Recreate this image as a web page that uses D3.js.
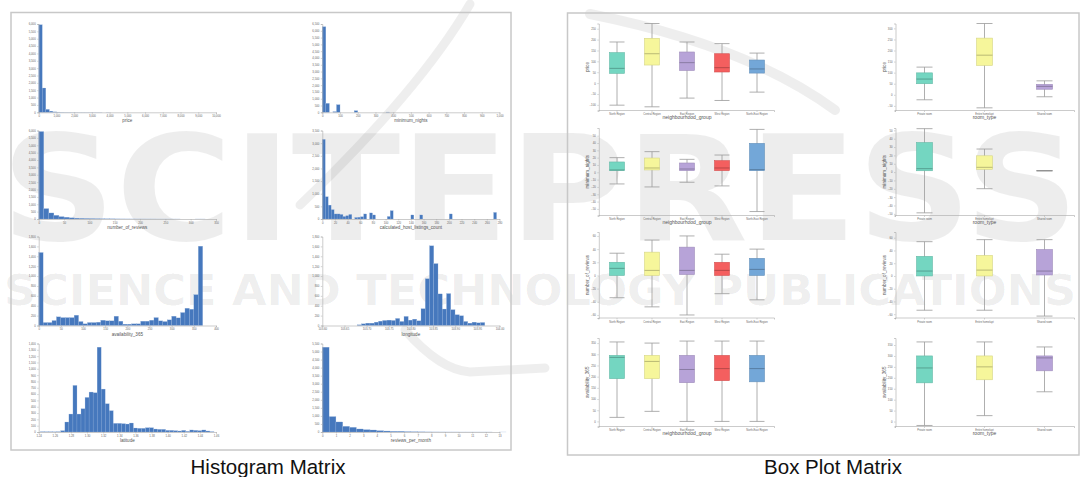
<!DOCTYPE html>
<html><head><meta charset="utf-8">
<script src="https://cdn.jsdelivr.net/npm/d3@7"></script>
<style>body{margin:0;background:#fff}svg{display:block}</style>
</head><body>
<svg id="c" width="1082" height="477"></svg>
<script>
// ---------------- DATA ----------------
// Histogram matrix (bin counts)
const histNames = ["price","minimum_nights","number_of_reviews","calculated_host_listings_count","availability_365","longitude","latitude","reviews_per_month"];
const priceCounts = [5950,1650,200,80,30,15,10,6,5,4,3,2,2,1,1,1,1,1,0,1];
const minNightsCounts = [6300,660,0,50,560,0,0,0,0,120,0,0,0,0,0,0,0,0,20];
const reviewsCounts = [5930,705,410,250,160,120,80,60,45,35,28,20,15,12,10,8,6,5,4,3,3,2,2,1,1,1,1,1,0,0,0,1,1];
const hostListCounts = [3150,880,550,370,200,200,180,100,130,180,0,60,70,90,200,0,240,160,0,0,0,0,100,330,0,0,0,0,0,0,160,0,0,160,0,0,0,0,0,0,0,0,0,200,0,0,0,0,0,0,0,0,0,0,0,0,0,0,260,0];
const availCounts = [1476,60,60,100,175,160,160,160,208,80,34,60,60,67,107,94,94,188,87,27,27,34,34,87,87,107,160,94,80,114,188,154,262,349,329,624,1604];
const longitudeCounts = [14,34,48,48,68,88,102,109,102,143,82,184,109,129,95,340,946,1612,1252,639,333,646,320,218,197,82,48,68,54,61];
const latitudeCounts = [4,3,3,2,4,21,158,284,737,284,368,547,632,621,1342,679,447,337,137,137,132,126,142,63,58,58,68,68,47,42,42,26,26,21,16,26,10,32,26,21,32,16,5];
const rpmCounts = [5270,958,625,354,292,188,146,125,83,62,42,42,21,15,8,6,4,3,2,2,1,1,1,1,1,0,1];
const histBinStart = [0,0,0,0,0,103.6788,1.2425,0];
const histBinWidth = [200,20,10,4.6667,10,0.0096,0.005,0.5];
const histXDomains = [[0,10000],[0,1000],[0,350],[0,280],[0,400],[103.6,104.0],[1.24,1.46],[0,13]];
const priceXTicks = [0,1000,2000,3000,4000,5000,6000,7000,8000,9000,10000];
const minNightsXTicks = [0,100,200,300,400,500,600,700,800,900,1000];
const reviewsXTicks = [0,50,100,150,200,250,300,350];
const hostListXTicks = [0,20,40,60,80,100,120,140,160,180,200,220,240,260,280];
const availXTicks = [0,50,100,150,200,250,300,350,400];
const longitudeXTicks = [103.6,103.65,103.7,103.75,103.8,103.85,103.9,103.95,104.0];
const latitudeXTicks = [1.24,1.26,1.28,1.30,1.32,1.34,1.36,1.38,1.40,1.42,1.44,1.46];
const rpmXTicks = [0,1,2,3,4,5,6,7,8,9,10,11,12,13];
const histYMax = [6000,6500,6000,3500,1800,1800,1400,5500];
const histYStep = [500,500,500,500,200,200,100,500];

// Box plot matrix: [lower whisker, Q1, median, Q3, upper whisker]
const groups = ["North Region","Central Region","East Region","West Region","North-East Region"];
const roomTypes = ["Private room","Entire home/apt","Shared room"];
const boxColors = ["#74d6c1","#f6f69b","#b7a3d8","#f45f5f","#73a7d8"];
const boxVars = ["price","minimum_nights","number_of_reviews","availability_365"];
const priceByGroup = [[-101.5,44.6,67.7,140,189],[-109,83,135,206,274],[-69,58,94,143,189],[-80,51,71,135,181.5],[-41.5,46,65,106,138]];
const priceByRoom = [[-22.6,50,71,99,125],[-59,132.5,179,256,322],[-9,25,38,47,63]];
const nightsByGroup = [[-15.9,2.3,3.2,14.1,20],[-20,3.2,5.9,19.5,28.2],[-13.6,2.3,4.5,12.7,17.7],[-18.6,2.3,5.9,15.9,23.6],[-53.6,2.3,3.6,39.5,58.6]];
const nightsByRoom = [[-48.8,1.6,4.1,35.4,52],[-19.9,3.3,5.7,19.5,27.6],[1.6,1.6,1.6,1.6,1.6]];
const reviewsByGroup = [[-33.8,0,10.8,20,33.8],[-47.7,0,7.7,35.4,53.8],[-60,1.5,7.7,43,60],[-27.7,0,7.7,20,32.3],[-37,0,9.2,26,40]];
const reviewsByRoom = [[-53.8,0,7.7,30.8,53.8],[-53.8,0,9.2,32.3,57],[-63,1.5,7.7,41.5,57]];
const availByGroup = [[18,191,286,295,355],[45,191,268,295,350],[0,173,232,295,359],[0,182,236,295,359],[0,177,236,295,359]];
const availByRoom = [[-18,177,245,300,364],[27,191,250,300,364],[136,232,291,300,341]];
const boxYDomainsGroup = [[-126,274],[-59,60.5],[-64.6,66],[-22.7,372.7]];
const boxYDomainsRoom = [[-71,322],[-52,52.8],[-66,69],[-22.7,382]];
const boxYTicksGroup = [[-100,-50,0,50,100,150,200,250],[-50,-40,-30,-20,-10,0,10,20,30,40,50],[-60,-40,-20,0,20,40,60],[0,50,100,150,200,250,300,350]];
const boxYTicksRoom = [[-50,0,50,100,150,200,250,300],[-50,-40,-30,-20,-10,0,10,20,30,40,50],[-60,-40,-20,0,20,40,60],[0,50,100,150,200,250,300,350]];
const captions = ["Histogram Matrix","Box Plot Matrix"];
const watermarkLines = ["SCITEPRESS","SCIENCE AND TECHNOLOGY PUBLICATIONS"];

// ---------------- DRAW ----------------
const svg = d3.select("#c");
const FONT = "Liberation Sans, Arial, sans-serif";

function styleAxis(g, fs){
  g.attr("font-family", FONT);
  g.selectAll("path.domain").attr("stroke","#a8a8a8").attr("stroke-width",0.6);
  g.selectAll(".tick line").attr("stroke","#a8a8a8").attr("stroke-width",0.5);
  g.selectAll(".tick text").attr("font-size",fs).attr("fill","#666");
}

// watermark (behind)
const wm = svg.append("g").attr("fill","#000").attr("fill-opacity",0.07);
wm.append("text").attr("x",1).attr("y",240).attr("font-family","DejaVu Sans").attr("font-weight","bold")
  .attr("font-size",146).attr("textLength",1078).attr("lengthAdjust","spacingAndGlyphs").text(watermarkLines[0]);
wm.append("text").attr("x",4).attr("y",305).attr("font-family","DejaVu Sans Condensed, DejaVu Sans").attr("font-weight","bold")
  .attr("font-size",43).attr("textLength",1072).attr("lengthAdjust","spacingAndGlyphs").text(watermarkLines[1]);
const sw = svg.append("g").attr("fill","none").attr("stroke","#000").attr("stroke-opacity",0.065).attr("stroke-linecap","round");
sw.append("path").attr("d","M470,4 Q420,90 300,205").attr("stroke-width",9);
sw.append("path").attr("d","M590,14 C660,28 760,55 835,110").attr("stroke-width",10);
sw.append("path").attr("d","M405,330 Q440,370 470,372 L545,368").attr("stroke-width",9);

// panel borders
svg.append("rect").attr("x",11).attr("y",12.5).attr("width",500).attr("height",437.5)
  .attr("fill","none").attr("stroke","#c8c8c8").attr("stroke-width",1.5);
svg.append("rect").attr("x",567.5).attr("y",13).attr("width",511.5).attr("height",442)
  .attr("fill","none").attr("stroke","#c8c8c8").attr("stroke-width",1.5);

// histograms
const histCounts = [priceCounts,minNightsCounts,reviewsCounts,hostListCounts,availCounts,longitudeCounts,latitudeCounts,rpmCounts];
const histXTicks = [priceXTicks,minNightsXTicks,reviewsXTicks,hostListXTicks,availXTicks,longitudeXTicks,latitudeXTicks,rpmXTicks];
const histXFmt = [d3.format(","),d3.format(","),d3.format(","),d3.format(","),d3.format(","),d3.format(".2f"),d3.format(".2f"),d3.format(",")];
const colX = [[38.7,216],[322.3,499.5]];
const rowBase = [112.3,219,325.5,432];
const rowTop = [24,130.5,236.5,343.5];

histNames.forEach((name,i)=>{
  const col = i%2, row = Math.floor(i/2);
  const x = d3.scaleLinear().domain(histXDomains[i]).range(colX[col]);
  const y = d3.scaleLinear().domain([0,histYMax[i]]).range([rowBase[row],rowTop[row]]);
  const g = svg.append("g");
  const bins = histCounts[i].map((c,k)=>({x0:histBinStart[i]+k*histBinWidth[i], x1:histBinStart[i]+(k+1)*histBinWidth[i], c}))
    .filter(d=>d.c>0);
  g.selectAll("rect").data(bins).enter().append("rect")
    .attr("x",d=>x(d.x0)).attr("width",d=>Math.max(0.4,x(d.x1)-x(d.x0)))
    .attr("y",d=>y(d.c)).attr("height",d=>y(0)-y(d.c))
    .attr("fill","#4678bd").attr("stroke","#9bb6dd").attr("stroke-width",0.25);
  const yTicks = d3.range(0,histYMax[i]+1e-9,histYStep[i]);
  const ya = g.append("g").attr("transform",`translate(${colX[col][0]},0)`)
    .call(d3.axisLeft(y).tickValues(yTicks).tickFormat(d3.format(",")).tickSize(1.5).tickPadding(1.5));
  styleAxis(ya,2.8);
  const xa = g.append("g").attr("transform",`translate(0,${rowBase[row]})`)
    .call(d3.axisBottom(x).tickValues(histXTicks[i]).tickFormat(histXFmt[i]).tickSize(1.5).tickPadding(1.5));
  styleAxis(xa,2.8);
  g.append("text").attr("x",(colX[col][0]+colX[col][1])/2).attr("y",rowBase[row]+10)
    .attr("text-anchor","middle").attr("font-family",FONT).attr("font-size",4.6).attr("fill","#555").text(name);
});

// box plots
const boxDataGroup = [priceByGroup,nightsByGroup,reviewsByGroup,availByGroup];
const boxDataRoom = [priceByRoom,nightsByRoom,reviewsByRoom,availByRoom];
const bCols = [
  {axisX:598.8, range:[599.5,774.5], bw:15, cats:groups, title:"neighbourhood_group", data:boxDataGroup, dom:boxYDomainsGroup, ticks:boxYTicksGroup},
  {axisX:895.5, range:[894.5,1074.5], bw:16, cats:roomTypes, title:"room_type", data:boxDataRoom, dom:boxYDomainsRoom, ticks:boxYTicksRoom}
];
const bBase = [110.5,215.5,318,426.5];
const bTop = [23.5,128,232,338];
const showXTitle = [true,true,false,true];

bCols.forEach((C)=>{
  boxVars.forEach((v,r)=>{
    const g = svg.append("g");
    const x = d3.scaleBand().domain(C.cats).range(C.range);
    const y = d3.scaleLinear().domain(C.dom[r]).range([bBase[r],bTop[r]]);
    const ya = g.append("g").attr("transform",`translate(${C.axisX},0)`)
      .call(d3.axisLeft(y).tickValues(C.ticks[r]).tickSize(1.5).tickPadding(1.5));
    styleAxis(ya,2.8);
    const xa = g.append("g").attr("transform",`translate(0,${bBase[r]})`)
      .call(d3.axisBottom(x).tickSize(1.5).tickPadding(1.5));
    styleAxis(xa,2.6);
    xa.select("path.domain").attr("d",`M${C.axisX},1.5V0H${C.range[1]}V1.5`);
    if(showXTitle[r]){
      g.append("text").attr("x",(C.range[0]+C.range[1])/2).attr("y",bBase[r]+8)
        .attr("text-anchor","middle").attr("font-family",FONT).attr("font-size",5).attr("fill","#555").text(C.title);
    }
    g.append("text").attr("transform",`translate(${C.axisX-10},${(bBase[r]+bTop[r])/2}) rotate(-90)`)
      .attr("text-anchor","middle").attr("font-family",FONT).attr("font-size",4.6).attr("fill","#555").text(v);
    C.data[r].forEach((s,k)=>{
      const cx = x(C.cats[k]) + x.bandwidth()/2;
      const col = boxColors[k];
      const dk = d3.color(col).darker(0.9);
      const bg = g.append("g");
      bg.append("line").attr("x1",cx).attr("x2",cx).attr("y1",y(s[4])).attr("y2",y(s[0]))
        .attr("stroke","#9a9a9a").attr("stroke-width",0.8);
      [s[0],s[4]].forEach(w=>bg.append("line").attr("x1",cx-C.bw/2).attr("x2",cx+C.bw/2)
        .attr("y1",y(w)).attr("y2",y(w)).attr("stroke","#9a9a9a").attr("stroke-width",0.8));
      if (s[3]>s[1]) {
        bg.append("rect").attr("x",cx-C.bw/2).attr("width",C.bw).attr("y",y(s[3])).attr("height",y(s[1])-y(s[3]))
          .attr("fill",col).attr("stroke",d3.color(col).darker(0.4)).attr("stroke-width",0.6);
      }
      bg.append("line").attr("x1",cx-C.bw/2).attr("x2",cx+C.bw/2).attr("y1",y(s[2])).attr("y2",y(s[2]))
        .attr("stroke",s[3]>s[1]?dk:"#8a8a8a").attr("stroke-width",0.9);
    });
  });
});

// captions
svg.append("text").attr("x",268).attr("y",474).attr("text-anchor","middle").attr("font-family",FONT)
  .attr("font-size",20.5).attr("fill","#111").text(captions[0]);
svg.append("text").attr("x",833).attr("y",474).attr("text-anchor","middle").attr("font-family",FONT)
  .attr("font-size",20.5).attr("fill","#111").text(captions[1]);
</script>
</body></html>
